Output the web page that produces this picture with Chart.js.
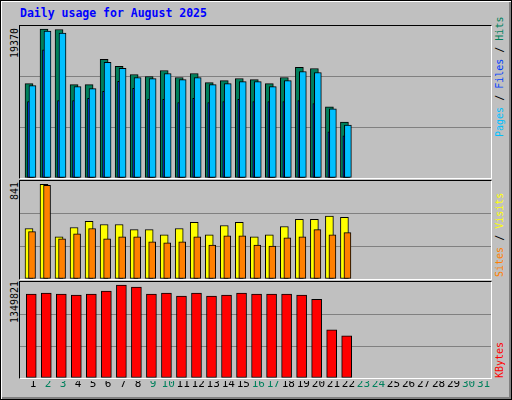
<!DOCTYPE html>
<html>
<head>
<meta charset="utf-8">
<script src="https://cdn.jsdelivr.net/npm/chart.js@4/dist/chart.umd.min.js"></script>
<style>
  body { margin: 0; background: #c0c0c0; }
  #frame { position: absolute; left: 0; top: 0; width: 510px; height: 398px; background: #c0c0c0;
    border-top: 1px solid #000; border-left: 1px solid #000; border-right: 1px solid #000; border-bottom: 1px solid #000;
    box-shadow: inset 1px 1px 0 #fff, inset -2px -2px 0 #808080; }
  .txt { position: absolute; font-family: "DejaVu Sans Mono", monospace; white-space: nowrap; }
  #title { left: 20px; top: 6px; color: #0000ff; font-weight: bold; font-size: 11.5px; }
  .panel { position: absolute; left: 19px; width: 471px; border-top: 1px solid #000; border-left: 1px solid #000;
    border-right: 1px solid #fff; border-bottom: 1px solid #fff; }
  .panel canvas { position: absolute; left: 0; top: 0; }
  .rot { font-size: 10px; transform-origin: 0 0; transform: rotate(-90deg); }
</style>
</head>
<body>
<div id="frame"></div>
<div class="txt" id="title">Daily usage for August 2025</div>
<div class="panel" style="top:25px;height:152px"><canvas id="c1" width="471" height="152"></canvas></div>
<div class="panel" style="top:180px;height:98px"><canvas id="c2" width="471" height="98"></canvas></div>
<div class="panel" style="top:281px;height:96px"><canvas id="c3" width="471" height="96"></canvas></div>
<canvas id="cx" width="471" height="20" style="position:absolute;left:20px;top:381px"></canvas>
<div class="txt rot" style="left:9px;top:58px">19370</div>
<div class="txt rot" style="left:9px;top:200px">841</div>
<div class="txt rot" style="left:9px;top:323px">1349821</div>
<div class="txt rot" style="left:494px;top:137px"><span style="color:#00c0ff">Pages</span> / <span style="color:#0040ff">Files</span> / <span style="color:#00805c">Hits</span></div>
<div class="txt rot" style="left:494px;top:277px"><span style="color:#ff8000">Sites</span> / <span style="color:#ffff00">Visits</span></div>
<div class="txt rot" style="left:494px;top:378px"><span style="color:#ff0000">KBytes</span></div>
<script>
const days = [1,2,3,4,5,6,7,8,9,10,11,12,13,14,15,16,17,18,19,20,21,22,23,24,25,26,27,28,29,30,31];
const weekend = [2,3,9,10,16,17,23,24,30,31];
const hits = [12270,19370,19300,12140,12140,15425,14505,13455,13190,13980,13060,13585,12400,12665,12930,12795,12270,13060,14375,14240,9245,7275];
const pages = [12008,19107,18844,11876,11613,15031,14243,13059,12928,13585,12796,13059,12139,12270,12533,12533,11876,12665,13848,13717,8984,6880];
const files = [9948,16653,10079,10079,10342,11262,12577,11657,10211,10211,9816,10342,9816,9948,10211,9948,9948,9948,10079,9685,6004,5478];
const visits = [448,841,375,457,512,484,484,439,439,393,448,503,393,475,503,375,393,466,530,530,558,548];
const sites = [420,832,357,402,448,357,375,375,329,320,329,375,302,384,384,302,293,366,375,439,393,411];
const kbytes = [1216800,1231600,1216800,1202000,1216800,1261150,1349821,1320260,1216800,1231600,1187250,1231600,1187250,1202000,1231600,1216800,1216800,1216800,1202000,1142900,699540,610850];

const span = 471 / 15.02;
function xAxis(min) { return { type: 'linear', display: false, offset: false, min: min, max: min + span }; }
function pts(arr) { return arr.map((v, i) => ({ x: days[i], y: v })); }
function bar(label, arr, color, w, axis, order) {
  return { label, data: pts(arr), backgroundColor: color, borderColor: '#000', borderWidth: 1,
    borderSkipped: false, barThickness: w, grouped: false, xAxisID: axis, order };
}
function makeChart(id, datasets, axes, ymax) {
  const scales = Object.assign({}, axes, {
    y: { min: 0, max: ymax, ticks: { display: false, stepSize: ymax / 3 }, border: { display: false },
      afterFit: s => { s.width = 0; },
      grid: { drawTicks: false, lineWidth: 1, color: c => (c.index === 1 || c.index === 2) ? '#808080' : 'rgba(0,0,0,0)' } }
  });
  new Chart(document.getElementById(id), {
    type: 'bar',
    data: { datasets },
    options: { responsive: false, animation: false, layout: { padding: 0 },
      plugins: { legend: { display: false }, tooltip: { enabled: false } }, scales }
  });
}

makeChart('c1', [
  bar('Hits', hits, '#00805c', 8, 'xh', 3),
  bar('Files', files, '#0040ff', 7, 'xf', 2),
  bar('Pages', pages, '#00c0ff', 7, 'xp', 1)
], { xh: xAxis(0.40), xf: xAxis(0.27), xp: xAxis(0.17) }, 19760);

makeChart('c2', [
  bar('Visits', visits, '#ffff00', 8, 'xv', 2),
  bar('Sites', sites, '#ff8000', 7, 'xs', 1)
], { xv: xAxis(0.40), xs: xAxis(0.20) }, 870);

makeChart('c3', [
  bar('KBytes', kbytes, '#ff0000', 10, 'xk', 1)
], { xk: xAxis(0.25) }, 1393000);

// day labels along the bottom
new Chart(document.getElementById('cx'), {
  type: 'bar',
  data: { datasets: [{ data: [], xAxisID: 'x' }] },
  options: { responsive: false, animation: false, layout: { padding: 0 },
    plugins: { legend: { display: false }, tooltip: { enabled: false } },
    scales: {
      x: { type: 'linear', position: 'top', offset: false, min: 0.134, max: 0.134 + span, border: { display: false },
        grid: { display: false, drawTicks: false },
        afterBuildTicks: s => { s.ticks = days.map(d => ({ value: d })); },
        ticks: { autoSkip: false, maxRotation: 0, padding: 0, font: { family: 'DejaVu Sans Mono', size: 11 },
          color: c => weekend.includes(c.tick.value) ? '#00805c' : '#000',
          callback: v => String(v) } },
      y: { display: false }
    }
  }
});
</script>
</body>
</html>
